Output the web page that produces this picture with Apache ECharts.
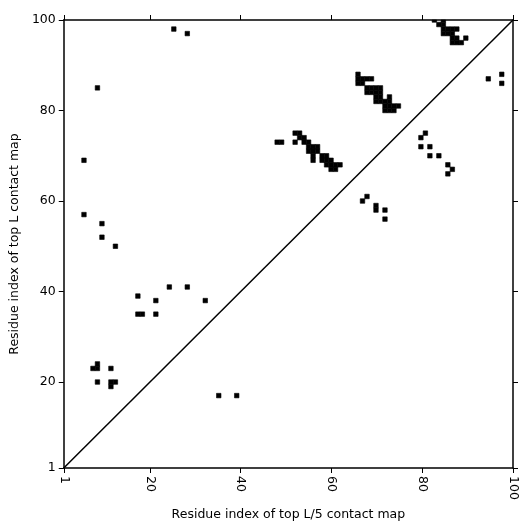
<!DOCTYPE html>
<html>
<head>
<meta charset="utf-8">
<script src="https://cdn.jsdelivr.net/npm/echarts@6/dist/echarts.min.js"></script>
<style>html,body{margin:0;padding:0;background:#fff}#c{width:532px;height:532px}</style>
</head>
<body>
<div id="c"></div>
<script>
// Tick labels
const tickValues = [1, 20, 40, 60, 80, 100];
const xAxisTitle = 'Residue index of top L/5 contact map';
const yAxisTitle = 'Residue index of top L contact map';

// Contacts: [residue index (x, top L/5), residue index (y, top L)]
const upperLeftContacts = [
  [8,85],[5,69],[5,57],[9,55],[9,52],[12,50],[25,98],[28,97],
  [24,41],[28,41],[17,39],[21,38],[32,38],[17,35],[18,35],[21,35],
  [7,23],[8,23],[8,24],[11,23],[8,20],[11,20],[12,20],[11,19],
  [35,17],[39,17]
];
const bandContactsA = [
  [66,88],[66,87],[67,87],[68,87],[69,87],[66,86],[67,86],
  [68,85],[69,85],[70,85],[71,85],[68,84],[69,84],[70,84],[71,84],
  [70,83],[71,83],[73,83],[70,82],[71,82],[72,82],[73,82],
  [72,81],[73,81],[74,81],[75,81],[72,80],[73,80],[74,80]
];
const bandContactsB = [
  [48,73],[49,73],[52,75],[53,75],[52,73],[53,74],[54,74],[54,73],[55,73],
  [55,72],[56,72],[57,72],[55,71],[56,71],[57,71],[56,70],[58,70],[59,70],
  [56,69],[58,69],[59,69],[60,69],[59,68],[60,68],[61,68],[62,68],[60,67],[61,67]
];
const topRightContacts = [
  [83,100],[85,100],[84,99],[85,99],[85,98],[86,98],[87,98],[88,98],
  [85,97],[86,97],[87,97],[87,96],[88,96],[90,96],[87,95],[88,95],[89,95],
  [98,88],[98,86],[95,87]
];
const lowerRightContacts = [
  [81,75],[80,74],[80,72],[82,72],[82,70],[84,70],[86,68],[87,67],[86,66],
  [68,61],[67,60],[70,59],[70,58],[72,58],[72,56]
];
const diagonal = [[1,1],[100,100]];

const contacts = [].concat(upperLeftContacts, bandContactsA, bandContactsB, topRightContacts, lowerRightContacts);

const chart = echarts.init(document.getElementById('c'), null, {renderer:'canvas'});
const font = 'DejaVu Sans';
const axisCommon = {
  type: 'value', min: 1, max: 100,
  splitLine: {show: false},
  axisLine: {show: true, lineStyle: {color: '#000', width: 1.5}},
  axisTick: {show: true, inside: false, length: 5, lineStyle: {color: '#000', width: 1}, customValues: tickValues},
};
chart.setOption({
  animation: false,
  backgroundColor: '#fff',
  grid: {left: 62, right: 19, top: 20, bottom: 64, containLabel: false},
  xAxis: [
    Object.assign({}, axisCommon, {
      position: 'bottom',
      name: xAxisTitle, nameLocation: 'middle', nameGap: 38,
      nameTextStyle: {fontFamily: font, fontSize: 12.5, color: '#000'},
      axisLabel: {show: true, rotate: -90, customValues: tickValues, fontFamily: font, fontSize: 12.5, color: '#000', margin: 8}
    }),
    Object.assign({}, axisCommon, {position: 'top', axisLabel: {show: false}})
  ],
  yAxis: [
    Object.assign({}, axisCommon, {
      position: 'left',
      name: yAxisTitle, nameLocation: 'middle', nameGap: 35,
      nameTextStyle: {fontFamily: font, fontSize: 12.5, color: '#000'},
      axisLabel: {show: true, customValues: tickValues, fontFamily: font, fontSize: 12.5, color: '#000', margin: 8}
    }),
    Object.assign({}, axisCommon, {position: 'right', axisLabel: {show: false}})
  ],
  series: [
    {
      type: 'custom',
      xAxisIndex: 0, yAxisIndex: 0,
      data: contacts,
      renderItem: function (params, api) {
        const r = api.value(0), c = api.value(1);
        const x0 = 1 + (r - 1) * 0.99, x1 = x0 + 0.99;
        const p0 = api.coord([x0, c + 0.5]);
        const p1 = api.coord([x1, c - 0.5]);
        const rect = echarts.graphic.clipRectByRect(
          {x: p0[0], y: p0[1], width: p1[0] - p0[0], height: p1[1] - p0[1]},
          {x: params.coordSys.x, y: params.coordSys.y, width: params.coordSys.width, height: params.coordSys.height}
        );
        if (!rect) return null;
        return {type: 'rect', shape: rect, style: {fill: '#000', stroke: '#000', lineWidth: 0.6}};
      },
      z: 2
    },
    {
      type: 'line',
      data: diagonal,
      symbol: 'none',
      lineStyle: {color: '#000', width: 1.5},
      silent: true,
      z: 3
    }
  ]
});
</script>
</body>
</html>
